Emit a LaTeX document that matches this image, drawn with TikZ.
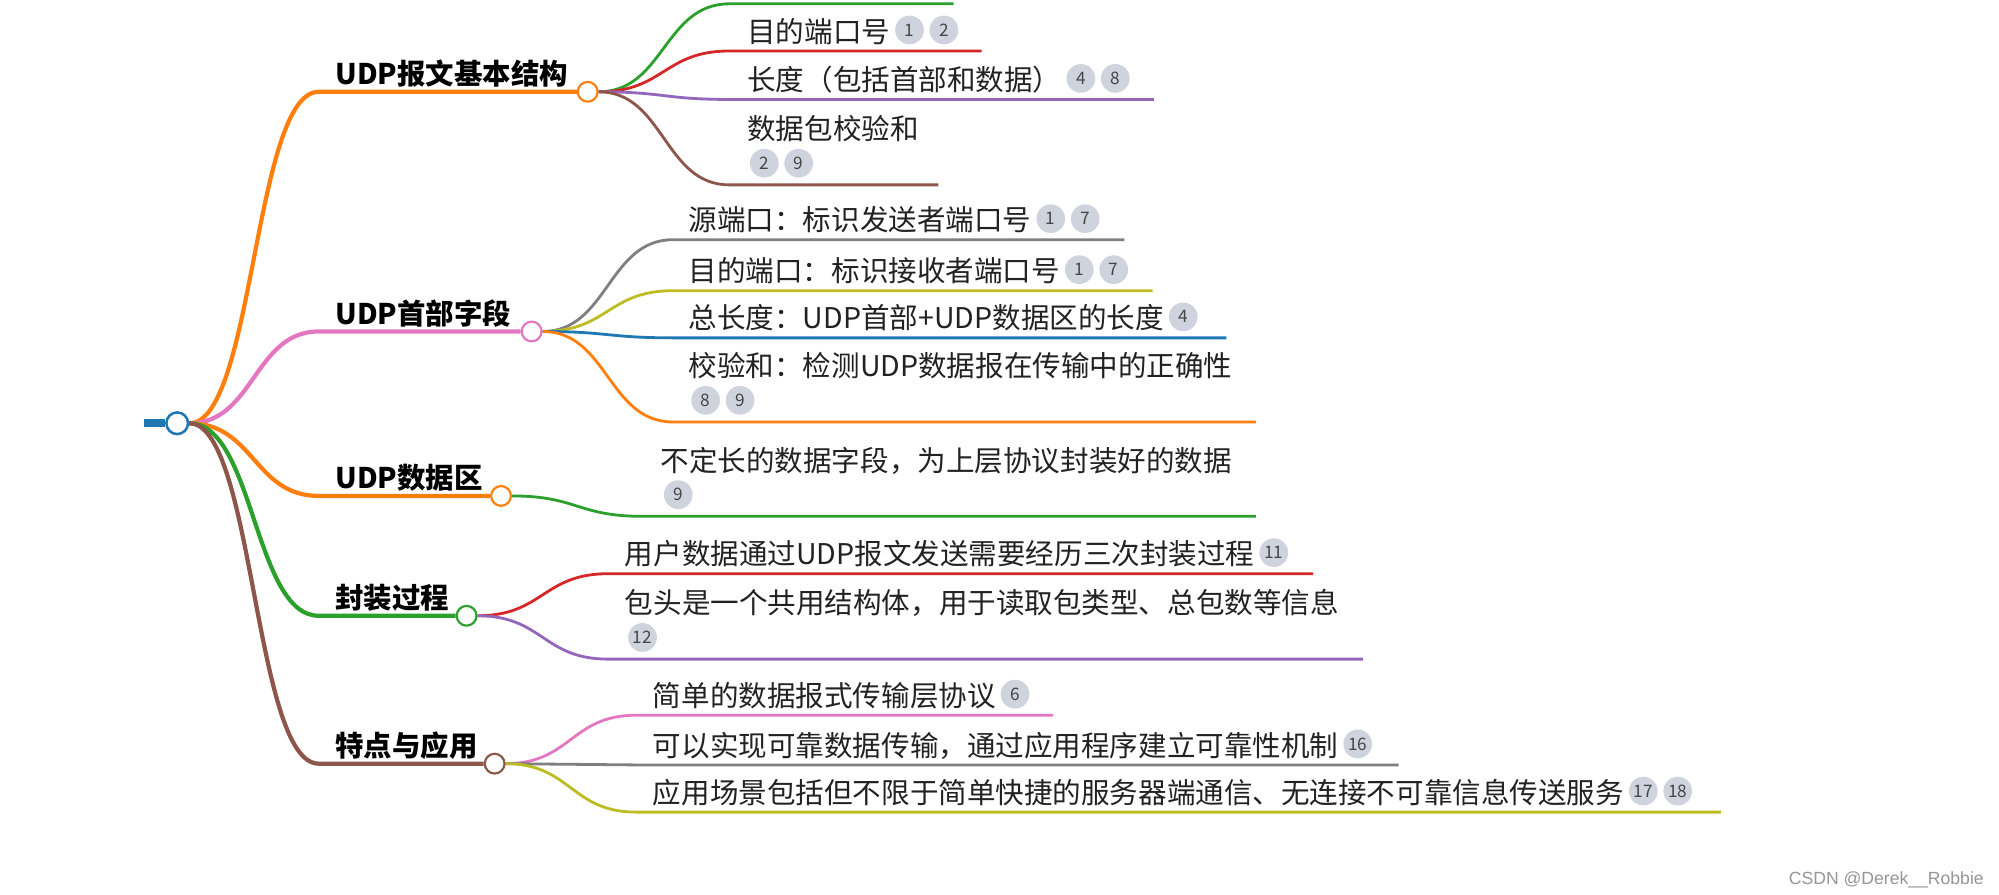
\documentclass[tikz,border=0pt]{standalone}
\usepackage{fontspec}
\usetikzlibrary{calc}
\newfontfamily\cjk{Noto Sans CJK SC}
\newfontfamily\wmfont{Liberation Sans}
\definecolor{cOrange}{HTML}{FF7F0E}
\definecolor{cPink}{HTML}{E377C2}
\definecolor{cGreen}{HTML}{2CA02C}
\definecolor{cBrown}{HTML}{8C564B}
\definecolor{cRed}{HTML}{D62728}
\definecolor{cPurple}{HTML}{9467BD}
\definecolor{cGray}{HTML}{7F7F7F}
\definecolor{cOlive}{HTML}{BCBD22}
\definecolor{cBlue}{HTML}{1F77B4}
\definecolor{txt}{RGB}{34,34,34}
\definecolor{badgebg}{RGB}{207,211,221}
\definecolor{badgefg}{RGB}{70,70,70}
\definecolor{wmgray}{RGB}{150,150,150}
\pgfdeclarelayer{bg}
\pgfsetlayers{bg,main}
\tikzset{
  curvy/.style={to path={let \p1=(\tikztostart), \p2=(\tikztotarget) in
      .. controls (\x1/2+\x2/2,\y1) and (\x1/2+\x2/2,\y2) .. (\tikztotarget)}},
  lone/.style={line width=3.3pt},
  ltwo/.style={line width=2.2pt},
  hub/.style={circle, draw, fill=white, line width=1.7pt, minimum size=15.5pt, inner sep=0pt},
  roothub/.style={hub, line width=2pt, minimum size=17pt},
  topic/.style={font=\cjk\bfseries\fontsize{22.3}{26}\selectfont, anchor=base west, inner sep=0pt, text=black},
  leaf/.style={font=\cjk\fontsize{22.4}{27}\selectfont, anchor=base west, inner sep=0pt, text=txt},
  badge/.style={circle, fill=badgebg, minimum size=22.5pt, inner sep=0pt, font=\cjk\fontsize{13.5}{14}\selectfont, text=badgefg},
}
\begin{document}
\begin{tikzpicture}[x=1pt,y=-1pt]
\useasboundingbox (0,0) rectangle (1568,702);
\begin{pgfonlayer}{bg}
\fill[white] (0,0) rectangle (1568,702);
\end{pgfonlayer}

% root and topic circles
\node[roothub, draw=cBlue] (R) at (139,332) {};
\coordinate (stub) at (113,332);
\node[hub, draw=cOrange] (C1) at (461,72) {};
\node[hub, draw=cPink] (C2) at (417,260) {};
\node[hub, draw=cOrange] (C3) at (393,389) {};
\node[hub, draw=cGreen] (C4) at (366,483) {};
\node[hub, draw=cBrown] (C5) at (388,599) {};
\coordinate (S1) at (250,72);
\coordinate (S2) at (250,260);
\coordinate (S3) at (250,389);
\coordinate (S4) at (250,483);
\coordinate (S5) at (250,599);

% topic labels
\node[topic] (T1) at (263,66.5) {UDP报文基本结构};
\node[topic] (T2) at (263,254.5) {UDP首部字段};
\node[topic] (T3) at (263,383.5) {UDP数据区};
\node[topic] (T4) at (263,477.5) {封装过程};
\node[topic] (T5) at (263,593.5) {特点与应用};

% group 1
\coordinate (a1s) at (572,3);   \coordinate (a1e) at (748,3);
\coordinate (a2s) at (572,40);  \coordinate (a2e) at (770,40);
\coordinate (a3s) at (572,78);  \coordinate (a3e) at (905,78);
\coordinate (a4s) at (572,145); \coordinate (a4e) at (736,145);
\node[leaf] (a2t) at (586,33) {目的端口号};
\node[badge] (a2b1) at ([xshift=15pt,yshift=9.5pt]a2t.base east) {1};
\node[badge] (a2b2) at ([xshift=27pt]a2b1.center) {2};
\node[leaf] (a3t) at (586,71) {长度（包括首部和数据）};
\node[badge] (a3b1) at ([xshift=15pt,yshift=9.5pt]a3t.base east) {4};
\node[badge] (a3b2) at ([xshift=27pt]a3b1.center) {8};
\node[leaf] (a4t) at (586,109.5) {数据包校验和};
\node[badge] (a4b1) at (599.5,128) {2};
\node[badge] (a4b2) at ([xshift=27pt]a4b1.center) {9};

% group 2
\coordinate (b1s) at (528,188); \coordinate (b1e) at (882,188);
\coordinate (b2s) at (528,228); \coordinate (b2e) at (904,228);
\coordinate (b3s) at (528,265); \coordinate (b3e) at (962,265);
\coordinate (b4s) at (528,331); \coordinate (b4e) at (985,331);
\node[leaf] (b1t) at (540,181) {源端口：标识发送者端口号};
\node[badge] (b1b1) at ([xshift=15pt,yshift=9.5pt]b1t.base east) {1};
\node[badge] (b1b2) at ([xshift=27pt]b1b1.center) {7};
\node[leaf] (b2t) at (540,221) {目的端口：标识接收者端口号};
\node[badge] (b2b1) at ([xshift=15pt,yshift=9.5pt]b2t.base east) {1};
\node[badge] (b2b2) at ([xshift=27pt]b2b1.center) {7};
\node[leaf] (b3t) at (540,258) {总长度：UDP首部+UDP数据区的长度};
\node[badge] (b3b1) at ([xshift=15pt,yshift=9.5pt]b3t.base east) {4};
\node[leaf] (b4t) at (540,295.5) {校验和：检测UDP数据报在传输中的正确性};
\node[badge] (b4b1) at (553.5,314) {8};
\node[badge] (b4b2) at ([xshift=27pt]b4b1.center) {9};

% group 3
\coordinate (c1s) at (504,405); \coordinate (c1e) at (985,405);
\node[leaf] (c1t) at (518,369.5) {不定长的数据字段，为上层协议封装好的数据};
\node[badge] (c1b1) at (532,388) {9};

% group 4
\coordinate (d1s) at (477,450); \coordinate (d1e) at (1030,450);
\coordinate (d2s) at (477,517); \coordinate (d2e) at (1069,517);
\node[leaf] (d1t) at (490,443) {用户数据通过UDP报文发送需要经历三次封装过程};
\node[badge] (d1b1) at ([xshift=15pt,yshift=9.5pt]d1t.base east) {11};
\node[leaf] (d2t) at (490,481.5) {包头是一个共用结构体，用于读取包类型、总包数等信息};
\node[badge] (d2b1) at (504,500) {12};

% group 5
\coordinate (e1s) at (499,561); \coordinate (e1e) at (826,561);
\coordinate (e2s) at (499,600); \coordinate (e2e) at (1097,600);
\coordinate (e3s) at (499,637); \coordinate (e3e) at (1350,637);
\node[leaf] (e1t) at (512,554) {简单的数据报式传输层协议};
\node[badge] (e1b1) at ([xshift=15pt,yshift=9.5pt]e1t.base east) {6};
\node[leaf] (e2t) at (512,593) {可以实现可靠数据传输，通过应用程序建立可靠性机制};
\node[badge] (e2b1) at ([xshift=15pt,yshift=9.5pt]e2t.base east) {16};
\node[leaf] (e3t) at (512,630) {应用场景包括但不限于简单快捷的服务器端通信、无连接不可靠信息传送服务};
\node[badge] (e3b1) at ([xshift=15pt,yshift=9.5pt]e3t.base east) {17};
\node[badge] (e3b2) at ([xshift=27pt]e3b1.center) {18};

% watermark
\node[font=\wmfont\fontsize{13.8}{15}\selectfont, text=wmgray, anchor=base west, inner sep=0pt] (wm) at (1403,694) {CSDN @Derek\_\_Robbie};

\begin{pgfonlayer}{bg}
\draw[cBlue, line width=6.5pt] (stub) -- (R.west);
\draw[lone, cOrange] (R.east) to[curvy] (S1) -- (C1.west);
\draw[lone, cPink]   (R.east) to[curvy] (S2) -- (C2.west);
\draw[lone, cOrange] (R.east) to[curvy] (S3) -- (C3.west);
\draw[lone, cGreen]  (R.east) to[curvy] (S4) -- (C4.west);
\draw[lone, cBrown]  (R.east) to[curvy] (S5) -- (C5.west);

\draw[ltwo, cGreen]  (C1.east) to[curvy] (a1s) -- (a1e);
\draw[ltwo, cRed]    (C1.east) to[curvy] (a2s) -- (a2e);
\draw[ltwo, cPurple] (C1.east) to[curvy] (a3s) -- (a3e);
\draw[ltwo, cBrown]  (C1.east) to[curvy] (a4s) -- (a4e);

\draw[ltwo, cGray]   (C2.east) to[curvy] (b1s) -- (b1e);
\draw[ltwo, cOlive]  (C2.east) to[curvy] (b2s) -- (b2e);
\draw[ltwo, cBlue]   (C2.east) to[curvy] (b3s) -- (b3e);
\draw[ltwo, cOrange] (C2.east) to[curvy] (b4s) -- (b4e);

\draw[ltwo, cGreen]  (C3.east) to[curvy] (c1s) -- (c1e);

\draw[ltwo, cRed]    (C4.east) to[curvy] (d1s) -- (d1e);
\draw[ltwo, cPurple] (C4.east) to[curvy] (d2s) -- (d2e);

\draw[ltwo, cPink]   (C5.east) to[curvy] (e1s) -- (e1e);
\draw[ltwo, cGray]   (C5.east) to[curvy] (e2s) -- (e2e);
\draw[ltwo, cOlive]  (C5.east) to[curvy] (e3s) -- (e3e);
\end{pgfonlayer}
\end{tikzpicture}
\end{document}
